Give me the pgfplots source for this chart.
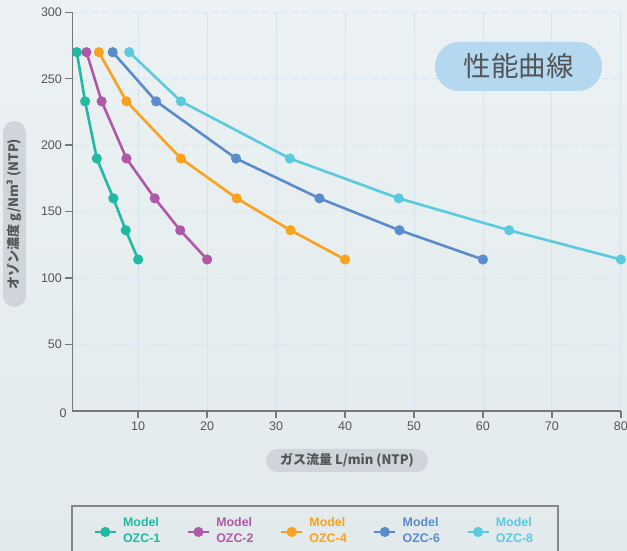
\documentclass[border=0pt]{standalone}
\usepackage{pgfplots}
\pgfplotsset{compat=1.18}
\usepackage{fontspec}
\setmainfont{Liberation Sans}
\newfontfamily\jp{Noto Sans CJK JP}
\definecolor{c1}{RGB}{32,186,163}
\definecolor{c2}{RGB}{176,88,168}
\definecolor{c3}{RGB}{248,162,30}
\definecolor{c4}{RGB}{90,139,205}
\definecolor{c5}{RGB}{90,202,222}
\definecolor{bgtop}{RGB}{236,242,244}
\definecolor{bgbot}{RGB}{226,234,236}
\definecolor{axgray}{RGB}{120,120,120}
\definecolor{tkgray}{RGB}{85,85,85}
\definecolor{gridblue}{RGB}{212,228,242}
\definecolor{titleblue}{RGB}{180,216,240}
\definecolor{pillgray}{RGB}{207,213,219}
\definecolor{framegray}{RGB}{135,135,135}
\begin{document}
\begin{tikzpicture}[x=1pt,y=1pt]
\shade[top color=bgtop,bottom color=bgbot] (0,0) rectangle (627,551);
\useasboundingbox (0,0) rectangle (627,551);
\begin{axis}[
  at={(72.4pt,140pt)}, anchor=south west, scale only axis,
  width=548.4pt, height=398.7pt,
  xmin=0.46, xmax=80, ymin=0, ymax=300,
  axis lines=left, axis line style={-, draw=axgray, line width=1.5pt},
  xtick={10,20,...,80}, ytick={50,100,...,300},
  tick align=outside, major tick length=7pt,
  tick style={draw=axgray, line width=1.5pt},
  ticklabel style={font=\fontsize{12.5}{14}\selectfont, text=tkgray},
  /pgf/number format/assume math mode=true,
  xmajorgrids, ymajorgrids,
  x grid style={draw=gridblue, line width=0.8pt},
  y grid style={draw=gridblue, line width=0.8pt, dash pattern=on 6pt off 4pt},
  every axis plot/.append style={line width=2.6pt, mark=*, mark size=3.7pt, mark options={solid}},
  legend columns=5,
  legend style={draw=none, fill=none, at={(axis description cs:0,0)}, anchor=north west,
    xshift=20.9pt, yshift=-104.5pt, inner sep=0pt,
    font=\bfseries\fontsize{12.4}{16}\selectfont, nodes={inner sep=0pt},
    /tikz/every odd column/.append style={column sep=6pt},
    /tikz/every even column/.append style={column sep=26.4pt}},
  legend image code/.code={\draw[mark repeat=2,mark phase=2,#1] plot coordinates {(0pt,-6pt)(10.5pt,-6pt)(21pt,-6pt)};},
]
\addplot[c1] coordinates {(1.1,270)(2.3,233)(4.0,190)(6.4,160)(8.2,136)(10,114)};
\addlegendentry{\textcolor{c1}{\begin{tabular}{@{}l@{}}Model\\OZC-1\end{tabular}}}
\addplot[c2] coordinates {(2.5,270)(4.7,233)(8.3,190)(12.4,160)(16.1,136)(20,114)};
\addlegendentry{\textcolor{c2}{\begin{tabular}{@{}l@{}}Model\\OZC-2\end{tabular}}}
\addplot[c3] coordinates {(4.3,270)(8.3,233)(16.2,190)(24.3,160)(32.1,136)(40,114)};
\addlegendentry{\textcolor{c3}{\begin{tabular}{@{}l@{}}Model\\OZC-4\end{tabular}}}
\addplot[c4] coordinates {(6.3,270)(12.6,233)(24.2,190)(36.3,160)(47.9,136)(60,114)};
\addlegendentry{\textcolor{c4}{\begin{tabular}{@{}l@{}}Model\\OZC-6\end{tabular}}}
\addplot[c5] coordinates {(8.7,270)(16.2,233)(32.0,190)(47.8,160)(63.8,136)(80,114)};
\addlegendentry{\textcolor{c5}{\begin{tabular}{@{}l@{}}Model\\OZC-8\end{tabular}}}
\end{axis}
\node[text=tkgray, font=\fontsize{12.5}{14}\selectfont] at (63,138) {0};
\draw[draw=framegray, line width=1.2pt] (72,45) rectangle (558,-10);
\node[fill=titleblue, rounded corners=24pt, minimum width=167pt, minimum height=49pt, inner sep=0pt, text=tkgray] at (518.5,484.5) {\jp\fontsize{27.5}{28}\selectfont 性能曲線};
\node[rotate=90, fill=pillgray, rounded corners=11.5pt, minimum width=186pt, minimum height=23pt, inner sep=0pt, text=tkgray] at (14.5,337) {\jp\bfseries\fontsize{13}{13}\selectfont オゾン濃度 g/Nm³ (NTP)};
\node[fill=pillgray, rounded corners=11.5pt, minimum width=162pt, minimum height=23pt, inner sep=0pt, text=tkgray] at (347,90.5) {\jp\bfseries\fontsize{13}{13}\selectfont ガス流量 L/min (NTP)};
\end{tikzpicture}
\end{document}
